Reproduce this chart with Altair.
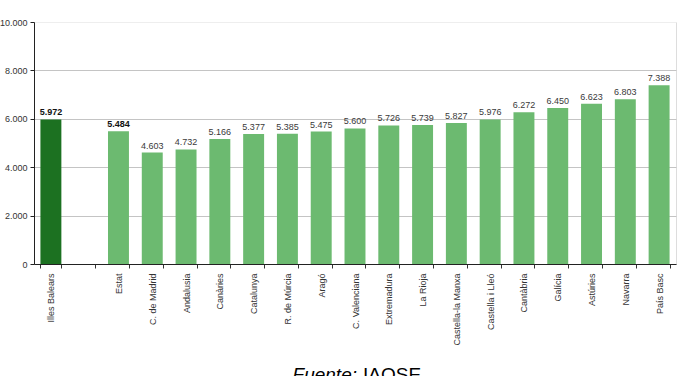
import altair as alt
import pandas as pd

categories = ["Illes Balears", " ", "Estat", "C. de Madrid", "Andalusia", "Canàries",
              "Catalunya", "R. de Múrcia", "Aragó", "C. Valenciana", "Extremadura",
              "La Rioja", "Castella-la Manxa", "Castella i Lleó", "Cantàbria",
              "Galícia", "Astúries", "Navarra", "País Basc"]
values = [5972, None, 5484, 4603, 4732, 5166, 5377, 5385, 5475, 5600, 5726,
          5739, 5827, 5976, 6272, 6450, 6623, 6803, 7388]
groups = ["balears", "none", "estat"] + ["region"] * 16
bold = [True, False, True] + [False] * 16
y_ticks = [0, 2000, 4000, 6000, 8000, 10000]

df = pd.DataFrame({"cat": categories, "val": values, "grp": groups, "bold": bold})
bars_df = df[df["val"].notna()]

xscale = alt.Scale(domain=categories, paddingInner=0.38, paddingOuter=0.19)
xenc = alt.X("cat:N", scale=xscale, title=None,
             axis=alt.Axis(labelAngle=-90, labelAlign="right", labelBaseline="middle",
                           labelFontSize=9, labelColor="#333333", labelFont="Liberation Sans",
                           labelPadding=5, tickBand="extent", tickSize=4, tickColor="#333333",
                           domainColor="#222222", grid=False, labelLimit=200))
yscale = alt.Scale(domain=[0, 10000])

bars = alt.Chart(bars_df).mark_bar().encode(
    x=xenc,
    y=alt.Y("val:Q", scale=yscale, title=None,
            axis=alt.Axis(values=y_ticks,
                          labelExpr="replace(format(datum.value, ','), ',', '.')",
                          labelFontSize=9, labelColor="#333333", labelFont="Liberation Sans",
                          tickSize=4, tickColor="#222222", domainColor="#222222",
                          gridColor={"condition": {"test": "datum.value >= 10000", "value": "#eeeeee"},
                                     "value": "#c4c4c4"},
                          labelPadding=3)),
    color=alt.Color("grp:N", scale=alt.Scale(domain=["balears", "estat", "region"],
                                              range=["#1c7121", "#6cba70", "#6cba70"]),
                    legend=None),
)

labels_norm = alt.Chart(bars_df[~bars_df["bold"]]).mark_text(
    dy=-7, fontSize=9, color="#3a3a3a", font="Liberation Sans"
).encode(
    x=alt.X("cat:N", scale=xscale),
    y=alt.Y("val:Q", scale=yscale),
    text=alt.Text("lbl:N"),
).transform_calculate(lbl="replace(format(datum.val, ','), ',', '.')")

labels_bold = alt.Chart(bars_df[bars_df["bold"]]).mark_text(
    dy=-7, fontSize=9, color="#111111", font="Liberation Sans", fontWeight="bold"
).encode(
    x=alt.X("cat:N", scale=xscale),
    y=alt.Y("val:Q", scale=yscale),
    text=alt.Text("lbl:N"),
).transform_calculate(lbl="replace(format(datum.val, ','), ',', '.')")

src1 = alt.Chart(pd.DataFrame({"t": ["Fuente:"]})).mark_text(
    align="right", baseline="alphabetic", fontSize=19, fontStyle="italic",
    font="Liberation Sans", color="#000000"
).encode(x=alt.value(323), y=alt.value(359), text="t:N")

src2 = alt.Chart(pd.DataFrame({"t": ["IAOSE"]})).mark_text(
    align="left", baseline="alphabetic", fontSize=19,
    font="Liberation Sans", color="#000000"
).encode(x=alt.value(329), y=alt.value(359), text="t:N")

chart = alt.layer(bars, labels_norm, labels_bold, src1, src2).properties(
    width=642, height=242,
    autosize=alt.AutoSizeParams(type="none"),
    padding={"left": 34, "top": 22, "right": 10, "bottom": 112},
).configure_view(stroke=None).configure(background="white")

chart.save("out.html", embed_options={"renderer": "svg", "actions": False})
